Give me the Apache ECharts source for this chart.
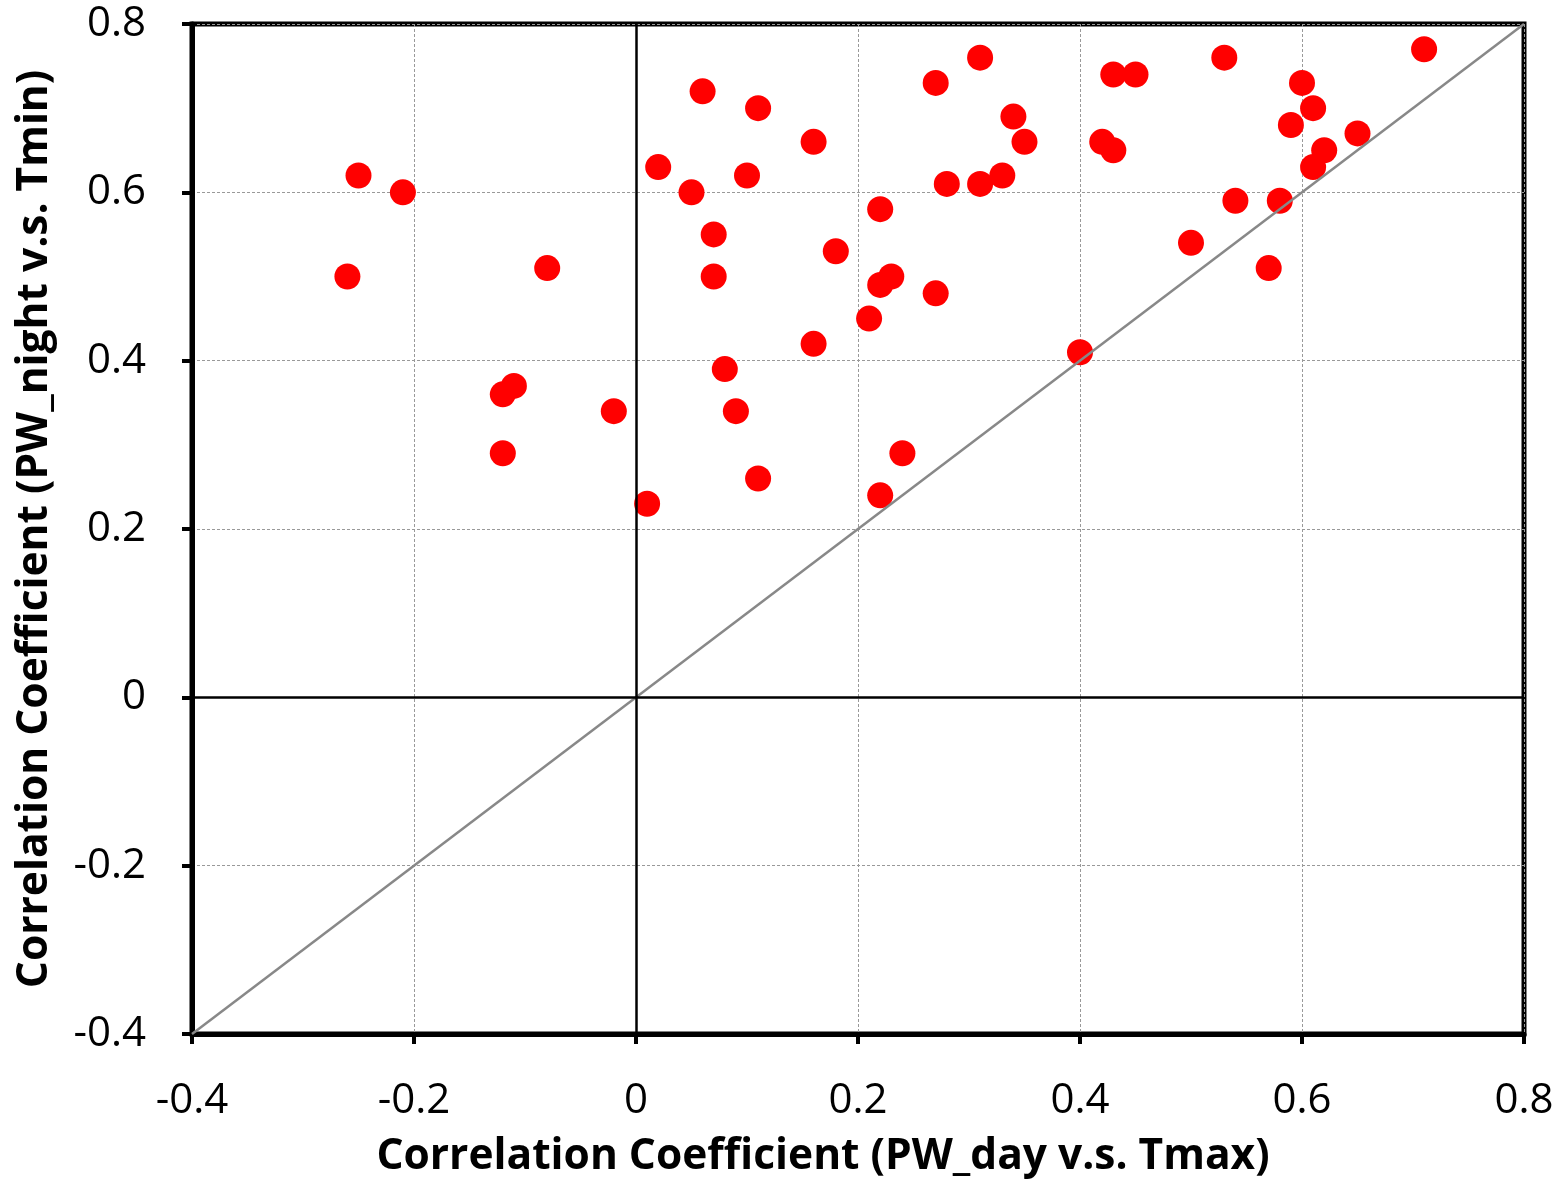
<!DOCTYPE html>
<html>
<head>
<meta charset="utf-8">
<script src="https://cdn.jsdelivr.net/npm/echarts@6/dist/echarts.min.js"></script>
<style>
  html, body { margin: 0; padding: 0; background: #fff; }
  #container { width: 1564px; height: 1184px; }
</style>
</head>
<body>
<div id="container"></div>
<script>
// correlation pairs: x = PW_day vs Tmax, y = PW_night vs Tmin
var dayCorr = [
  -0.26, -0.25, -0.21, -0.08, -0.12, -0.11, -0.12, -0.02, 0.01, 0.02,
  0.05, 0.06, 0.11, 0.07, 0.07, 0.10, 0.08, 0.09, 0.11, 0.16,
  0.18, 0.16, 0.22, 0.21, 0.22, 0.23, 0.24, 0.22, 0.27, 0.27,
  0.28, 0.31, 0.31, 0.33, 0.34, 0.35, 0.40, 0.42, 0.43, 0.43,
  0.45, 0.50, 0.53, 0.54, 0.57, 0.58, 0.59, 0.60, 0.61, 0.61,
  0.62, 0.65, 0.71
];
var nightCorr = [
  0.50, 0.62, 0.60, 0.51, 0.36, 0.37, 0.29, 0.34, 0.23, 0.63,
  0.60, 0.72, 0.70, 0.55, 0.50, 0.62, 0.39, 0.34, 0.26, 0.66,
  0.53, 0.42, 0.58, 0.45, 0.49, 0.50, 0.29, 0.24, 0.73, 0.48,
  0.61, 0.76, 0.61, 0.62, 0.69, 0.66, 0.41, 0.66, 0.65, 0.74,
  0.74, 0.54, 0.76, 0.59, 0.51, 0.59, 0.68, 0.73, 0.70, 0.63,
  0.65, 0.67, 0.77
];
var axisMin = -0.4;
var axisMax = 0.8;
var tickStep = 0.2;

var points = dayCorr.map(function (x, i) { return [x, nightCorr[i]]; });

var myChart = echarts.init(document.getElementById('container'));

var tickFont = { fontFamily: 'Open Sans', fontSize: 42, color: '#000' };
var titleFont = { fontFamily: 'Open Sans', fontWeight: 'bold', fontSize: 42.5, color: '#000' };
var fmt = function (v) { return +v.toFixed(1) + ''; };

myChart.setOption({
  animation: false,
  grid: {
    left: 192, right: 40, top: 24, bottom: 150,
    outerBoundsMode: 'none',
    show: true, borderColor: '#000', borderWidth: 5, backgroundColor: '#fff'
  },
  xAxis: {
    type: 'value', min: axisMin, max: axisMax, interval: tickStep,
    name: 'Correlation Coefficient (PW_day v.s. Tmax)',
    nameLocation: 'middle', nameGap: 101,
    nameTextStyle: Object.assign({ padding: [0, 70, 0, 0] }, titleFont),
    axisLine: { onZero: false, lineStyle: { color: '#000', width: 5 } },
    axisTick: { show: true, length: 10, lineStyle: { color: '#000', width: 4 } },
    axisLabel: Object.assign({ margin: 46, formatter: fmt }, tickFont),
    splitLine: { lineStyle: { color: '#999', width: 1, type: [3, 2] } }
  },
  yAxis: {
    type: 'value', min: axisMin, max: axisMax, interval: tickStep,
    name: 'Correlation Coefficient (PW_night v.s. Tmin)',
    nameLocation: 'middle', nameGap: 136,
    nameTextStyle: titleFont,
    axisLine: { onZero: false, lineStyle: { color: '#000', width: 5 } },
    axisTick: { show: true, length: 10, lineStyle: { color: '#000', width: 4 } },
    axisLabel: Object.assign({ margin: 46, formatter: fmt }, tickFont),
    splitLine: { lineStyle: { color: '#999', width: 1, type: [3, 2] } }
  },
  series: [
    {
      name: 'stations',
      type: 'scatter',
      symbolSize: 26,
      itemStyle: { color: '#ff0000', opacity: 1 },
      data: points,
      z: 2
    },
    {
      name: '1:1',
      type: 'line',
      data: [[axisMin, axisMin], [axisMax, axisMax]],
      showSymbol: false,
      lineStyle: { color: '#888', width: 2.5 },
      z: 3,
      markLine: {
        silent: true,
        symbol: 'none',
        label: { show: false },
        lineStyle: { color: '#000', width: 2.5, type: 'solid' },
        data: [{ xAxis: 0 }, { yAxis: 0 }]
      }
    }
  ]
});

window.addEventListener('resize', function () { myChart.resize(); });
</script>
</body>
</html>
